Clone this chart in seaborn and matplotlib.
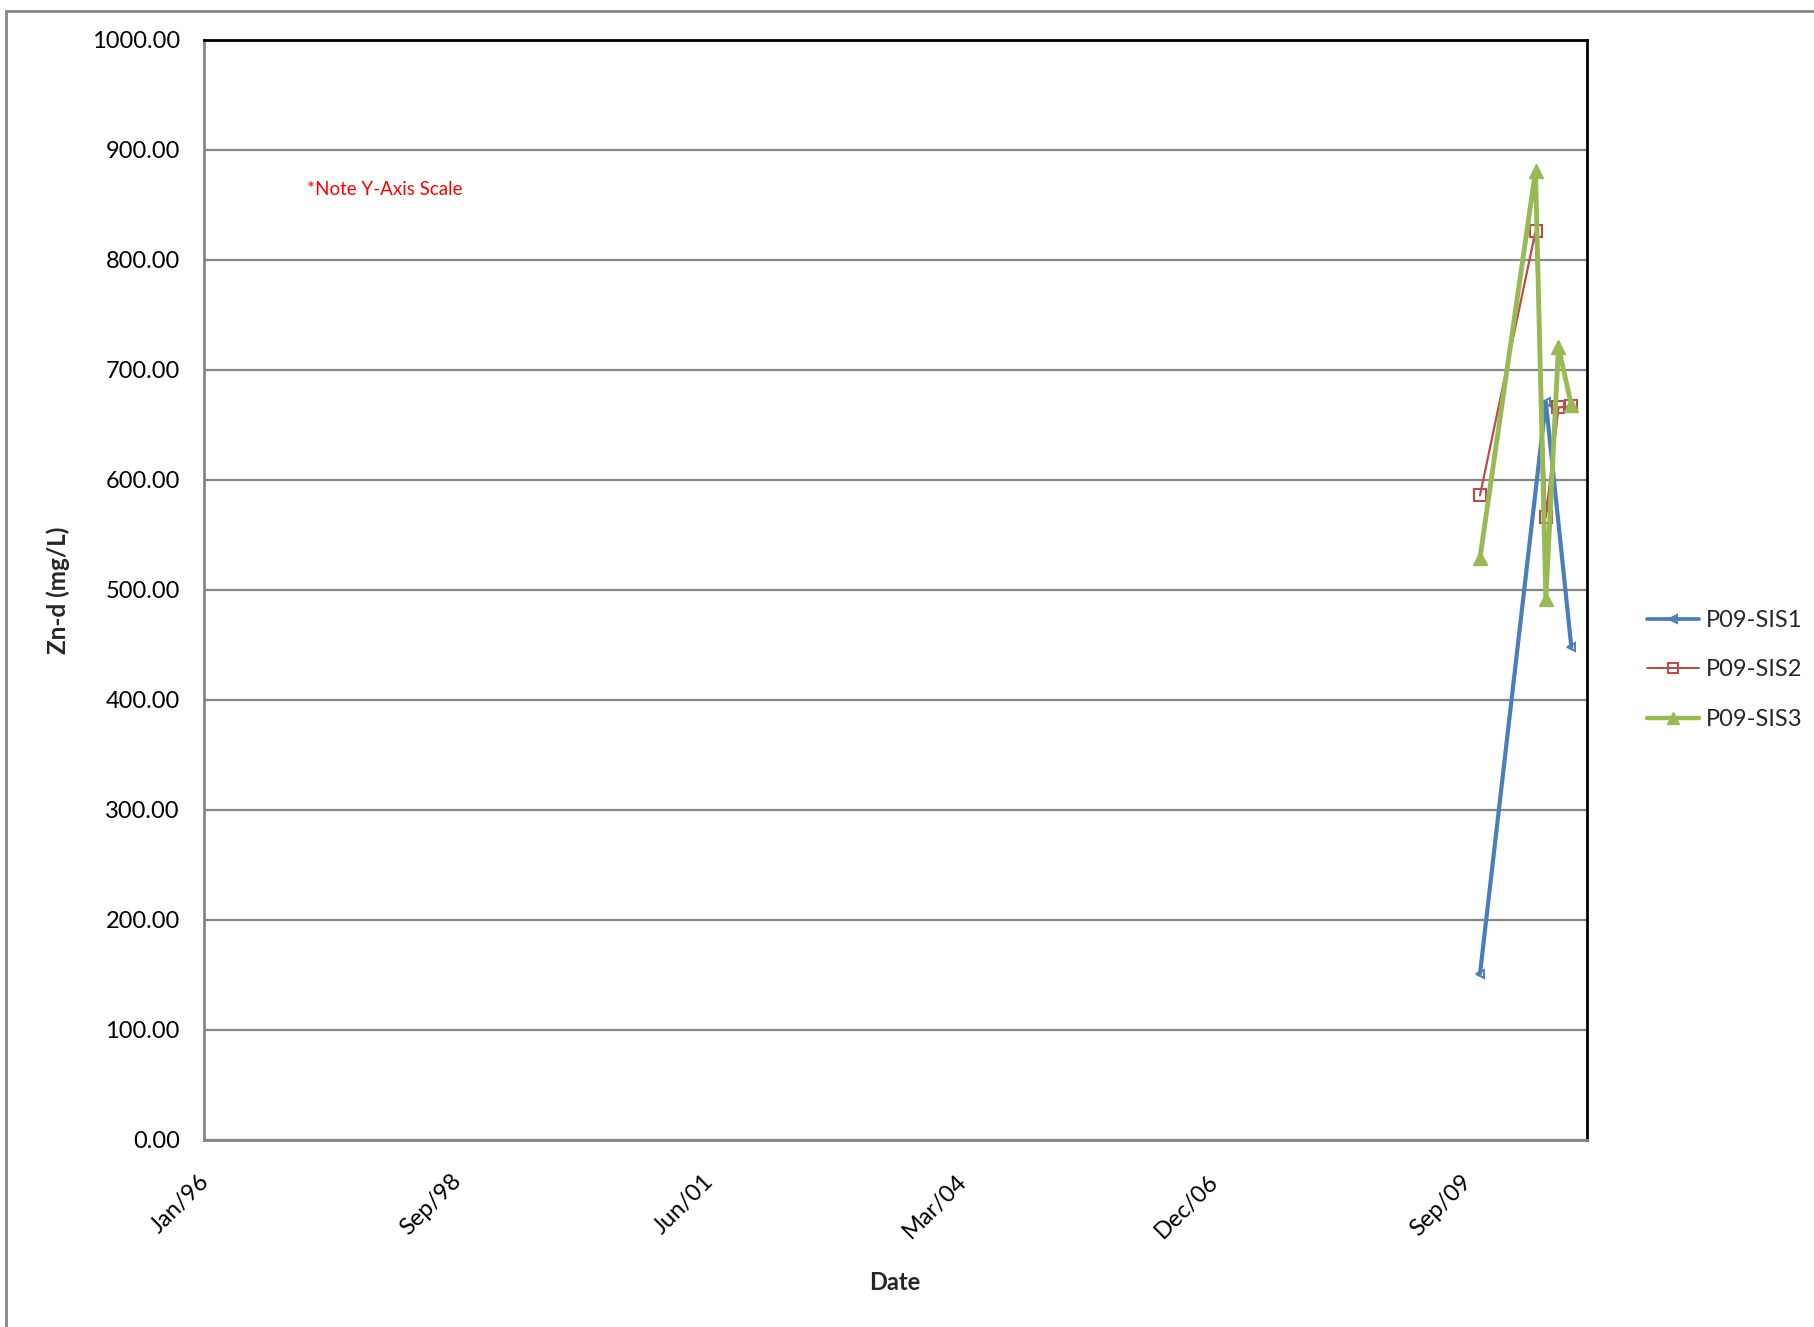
import matplotlib
matplotlib.use("Agg")
import matplotlib.pyplot as plt
import matplotlib.ticker as mticker
import matplotlib.transforms as mtransforms
from matplotlib.lines import Line2D
import pandas as pd
import seaborn as sns

# values
series_names = ["P09-SIS1", "P09-SIS2", "P09-SIS3"]
sis1_dates = ["2009-11-03", "2010-07-22", "2010-10-31"]
sis1_values = [151.0, 671.0, 448.0]
sis2_dates = ["2009-11-03", "2010-06-11", "2010-07-22", "2010-09-10", "2010-10-31"]
sis2_values = [586.0, 826.0, 566.0, 666.0, 667.0]
sis3_dates = ["2009-11-03", "2010-06-11", "2010-07-22", "2010-09-10", "2010-10-31"]
sis3_values = [529.0, 881.0, 492.0, 721.0, 668.0]

tick_dates = ["1996-01-01", "1998-09-27", "2001-06-23", "2004-03-19", "2006-12-14", "2009-09-09"]
tick_labels = ["Jan/96", "Sep/98", "Jun/01", "Mar/04", "Dec/06", "Sep/09"]
x_start, x_end = "1996-01-01", "2011-01-01"

frames = []
for name, d, v in zip(series_names,
                      [sis1_dates, sis2_dates, sis3_dates],
                      [sis1_values, sis2_values, sis3_values]):
    frames.append(pd.DataFrame({"Date": pd.to_datetime(d), "Zn": v, "Series": name}))
df = pd.concat(frames, ignore_index=True)

sns.set_style("white")
plt.rcParams["font.family"] = ["Lato", "DejaVu Sans"]

fig = plt.figure(figsize=(18.14, 13.27), dpi=100)
ax = fig.add_axes([204 / 1814, 1 - 1140 / 1327, 1383 / 1814, 1100 / 1327])

styles = {
    "P09-SIS1": dict(color="#4A7EBB", lw=3.0, marker="<", ms=6, mfc="none", mew=1.4),
    "P09-SIS2": dict(color="#BE4B48", lw=1.6, marker="s", ms=9, mfc="none", mew=1.5),
    "P09-SIS3": dict(color="#98B954", lw=3.5, marker="^", ms=10, mfc="#98B954", mew=1),
}

for name in series_names:
    st = styles[name]
    sns.lineplot(
        data=df[df["Series"] == name], x="Date", y="Zn", ax=ax,
        color=st["color"], linewidth=st["lw"], marker=st["marker"],
        markersize=st["ms"], markerfacecolor=st["mfc"], markeredgecolor=st["color"],
        markeredgewidth=st["mew"], label=name, sort=False, zorder=3,
    )

ax.set_xlim(pd.Timestamp(x_start), pd.Timestamp(x_end))
ax.set_ylim(0, 1000)
ax.yaxis.set_major_locator(mticker.MultipleLocator(100))
ax.yaxis.set_major_formatter(mticker.FormatStrFormatter("%.2f"))
ax.set_xticks(pd.to_datetime(tick_dates))
ax.set_xticklabels(tick_labels, rotation=45, ha="right", va="top")
ax.tick_params(axis="y", length=0, pad=17.5, labelsize=17, colors="black")
ax.tick_params(axis="x", length=0, pad=22, labelsize=17, colors="black")
shift = mtransforms.ScaledTranslation(0.09, 0.0, fig.dpi_scale_trans)
for lbl in ax.get_xticklabels():
    lbl.set_transform(lbl.get_transform() + shift)

ax.grid(axis="y", color="#868686", linewidth=1.6)
ax.grid(axis="x", visible=False)
ax.set_axisbelow(True)
for side in ["top", "right"]:
    ax.spines[side].set_color("black")
    ax.spines[side].set_linewidth(2)
for side in ["left", "bottom"]:
    ax.spines[side].set_color("#868686")
    ax.spines[side].set_linewidth(2)

ax.set_xlabel("")
ax.set_ylabel("")
fig.text(58 / 1814, 1 - 590 / 1327, "Zn-d (mg/L)", rotation=90, ha="center", va="center",
         fontsize=17.5, fontweight="bold")
fig.text(895 / 1814, 1 - 1282 / 1327, "Date", ha="center", va="center",
         fontsize=17, fontweight="bold")

ax.text(0.0745, 0.8645, "*Note Y-Axis Scale", transform=ax.transAxes, color="red",
        fontsize=13.5, ha="left", va="center")

ax.get_legend().remove()
handles = [
    Line2D([], [], color=styles[n]["color"], lw=styles[n]["lw"] * 0.9, marker=styles[n]["marker"],
           ms=styles[n]["ms"] * 0.85, mfc=styles[n]["mfc"], mec=styles[n]["color"],
           mew=styles[n]["mew"])
    for n in series_names
]
fig.legend(handles, series_names, loc="center left", bbox_to_anchor=(1647 / 1814, 1 - 670 / 1327),
           frameon=False, fontsize=17, handlelength=2.2, handletextpad=0.3,
           labelspacing=1.2, borderpad=0, borderaxespad=0)

# outer chart border (left and top edges)
fig.add_artist(Line2D([6 / 1814, 6 / 1814], [0, 1 - 11 / 1327], color="#868686", lw=2,
                      transform=fig.transFigure))
fig.add_artist(Line2D([6 / 1814, 1], [1 - 11 / 1327, 1 - 11 / 1327], color="#868686", lw=2,
                      transform=fig.transFigure))

plt.savefig("out.png", dpi=100)
